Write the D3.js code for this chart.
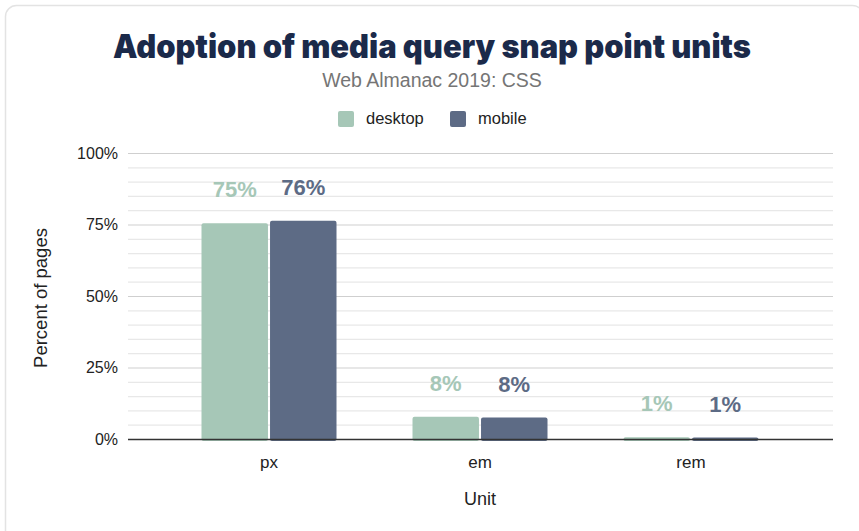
<!DOCTYPE html>
<html><head><meta charset="utf-8">
<script src="https://cdn.jsdelivr.net/npm/d3@7"></script>
<style>html,body{margin:0;padding:0;background:#fff;}svg{display:block;font-family:"Liberation Sans",Arial,sans-serif;}</style>
</head><body>
<svg id="c" width="859" height="531"></svg>
<script>
const categories = ["px", "em", "rem"];
const seriesNames = ["desktop", "mobile"];
const desktopValues = [75.4, 7.8, 0.6];
const mobileValues = [76.3, 7.5, 0.5];
const yTicks = [0, 25, 50, 75, 100];
const colors = {desktop: "#a6c7b7", mobile: "#5d6b85"};

const svg = d3.select("#c");
// card
svg.append("rect").attr("x",5.5).attr("y",5.5).attr("width",858).attr("height",540)
  .attr("rx",11).attr("fill","#fff").attr("stroke","#e3e3e3").attr("stroke-width",1.5);

const plot = {left:128, right:833, top:153, bottom:439};
const y = d3.scaleLinear().domain([0,100]).range([plot.bottom, plot.top]);
const x0 = d3.scaleBand().domain(categories).range([163.5, 796.5]).padding(0);
const groupW = 135;
const x1 = d3.scaleBand().domain(seriesNames).range([0, groupW]).paddingInner(0.03);

// minor grid
const minor = d3.range(0, 101, 5).filter(v => v % 25 !== 0);
svg.append("g").selectAll("line").data(minor).join("line")
  .attr("x1",plot.left).attr("x2",plot.right)
  .attr("y1",d=>y(d)+0.5).attr("y2",d=>y(d)+0.5)
  .attr("stroke","#e8e8e8").attr("stroke-width",1.2);
// major grid + labels via axis
const yAxis = d3.axisLeft(y).tickValues(yTicks).tickFormat(d=>d+"%").tickSize(-(plot.right-plot.left)).tickPadding(10);
const gy = svg.append("g").attr("transform",`translate(${plot.left},0)`).call(yAxis);
gy.select(".domain").remove();
gy.selectAll(".tick line").attr("stroke","#cfcfcf").attr("stroke-width",1.2);
gy.selectAll(".tick text").attr("font-size",16).attr("fill","#222").attr("font-family","'Liberation Sans',Arial,sans-serif");
gy.selectAll(".tick").filter(d=>d===0).select("line").remove();

const data = categories.map((c,i)=>({cat:c, values:[{s:"desktop",v:desktopValues[i]},{s:"mobile",v:mobileValues[i]}]}));
const groups = svg.append("g").selectAll("g").data(data).join("g")
  .attr("transform",d=>`translate(${x0(d.cat)+x0.bandwidth()/2-groupW/2},0)`);
groups.selectAll("rect").data(d=>d.values).join("rect")
  .attr("x",d=>x1(d.s)).attr("width",x1.bandwidth())
  .attr("y",d=>y(d.v)).attr("height",d=>Math.max(0,y(0)-y(d.v)+2))
  .attr("rx",2).attr("fill",d=>colors[d.s]);
groups.selectAll("text").data(d=>d.values).join("text")
  .attr("x",d=>x1(d.s)+x1.bandwidth()/2).attr("y",d=>y(d.v)-26)
  .attr("text-anchor","middle").attr("font-size",22).attr("font-weight","bold")
  .attr("fill",d=>colors[d.s]).text(d=>Math.round(d.v)+"%");

// baseline
svg.append("line").attr("x1",plot.left).attr("x2",plot.right).attr("y1",y(0)+0.5).attr("y2",y(0)+0.5)
  .attr("stroke","#333").attr("stroke-width",1.5);

// x axis labels
const xAxis = d3.axisBottom(x0).tickSize(0).tickPadding(17);
const gx = svg.append("g").attr("transform",`translate(0,${plot.bottom})`).call(xAxis);
gx.select(".domain").remove();
gx.selectAll(".tick text").attr("font-size",17).attr("fill","#222").attr("font-family","'Liberation Sans',Arial,sans-serif");

svg.append("text").attr("x",480).attr("y",505).attr("text-anchor","middle").attr("font-size",18).attr("fill","#222").text("Unit");
svg.append("text").attr("transform","translate(47,298) rotate(-90)").attr("text-anchor","middle").attr("font-size",18.5).attr("fill","#222").text("Percent of pages");

// title
const title = svg.append("text").attr("x",432).attr("y",58).attr("text-anchor","middle")
  .attr("font-size",33).attr("font-weight",900).attr("fill","#1b2a4a")
  .attr("font-family","Inter,'Liberation Sans',Arial,sans-serif").text("Adoption of media query snap point units");
title.attr("textLength",638).attr("lengthAdjust","spacingAndGlyphs");
svg.append("text").attr("x",432).attr("y",87).attr("text-anchor","middle").attr("font-size",19.5).attr("fill","#757575").text("Web Almanac 2019: CSS");

// legend
const legend = [{s:"desktop",x:338},{s:"mobile",x:450}];
const lg = svg.append("g").selectAll("g").data(legend).join("g");
lg.append("rect").attr("x",d=>d.x).attr("y",111).attr("width",16).attr("height",16).attr("rx",2).attr("fill",d=>colors[d.s]);
lg.append("text").attr("x",d=>d.x+28).attr("y",124).attr("font-size",16.5).attr("fill","#222").text(d=>d.s);
</script>
</body></html>
